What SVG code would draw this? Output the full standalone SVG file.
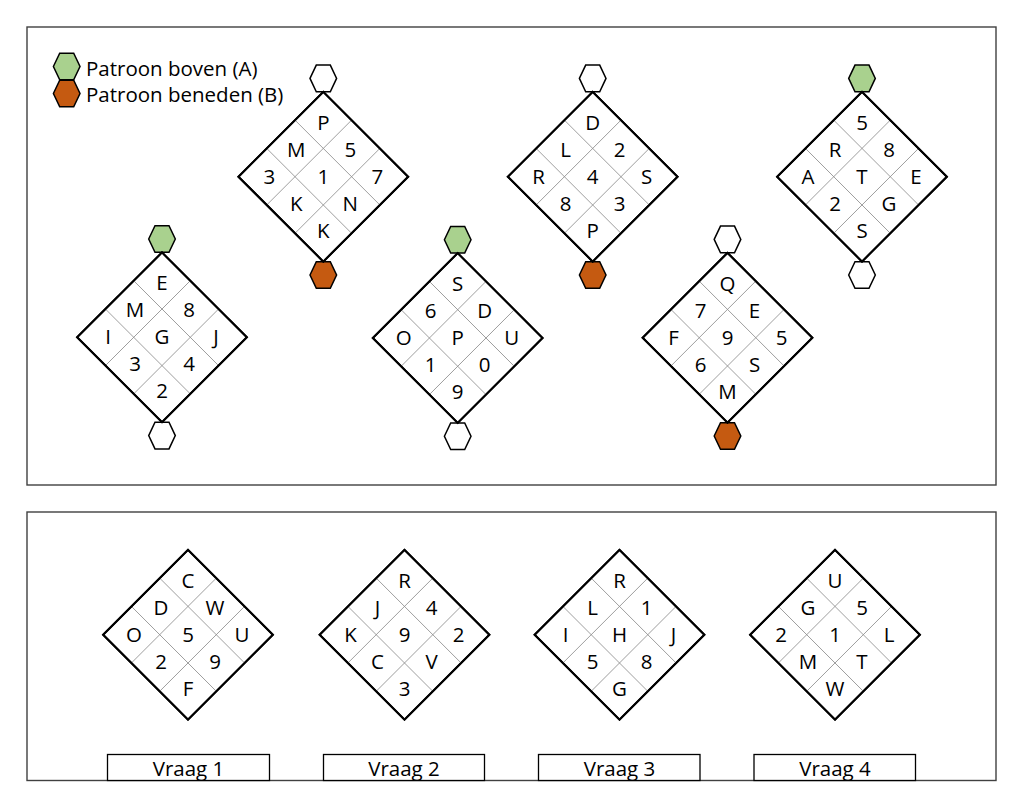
<svg xmlns="http://www.w3.org/2000/svg" xmlns:xlink="http://www.w3.org/1999/xlink" width="1024" height="809" viewBox="0 0 1024 809">
<style>
.panel{fill:#fff;stroke:#404040;stroke-width:1.4}
.frame{fill:#fff;stroke:#000;stroke-width:2}
.grid{stroke:#8c8c8c;stroke-width:0.8;fill:none}
.hex{stroke:#000;stroke-width:1.5}
.w{fill:#fff}.g{fill:#a9d18e}.o{fill:#c55a11}
.t{font-family:"Open Sans","Liberation Sans",sans-serif;font-size:20.5px;fill:#000;text-anchor:middle}
.v{font-family:"Open Sans","Liberation Sans",sans-serif;font-size:20.5px;fill:#000;text-anchor:middle}
.lg{font-family:"Open Sans","Liberation Sans",sans-serif;font-size:20.5px;fill:#000}
.box{fill:#fff;stroke:#000;stroke-width:1.3}
</style>
<defs>
<g id="frame">
<g transform="rotate(45)">
<rect class="frame" x="-60" y="-60" width="120" height="120"/>
<path class="grid" d="M-20,-60V60M20,-60V60M-60,-20H60M-60,20H60"/>
<rect x="-60" y="-60" width="120" height="120" fill="none" stroke="#000" stroke-width="2"/>
</g>
</g>
<polygon id="hx" points="-13.3,0 -7,-13.3 7,-13.3 13.3,0 7,13.3 -7,13.3"/>
</defs>
<rect class="panel" x="27" y="27" width="969" height="458"/>
<rect class="panel" x="27" y="512" width="969" height="268.5"/>

<g id="legend">
<use xlink:href="#hx" class="hex g" x="66.7" y="66.5"/>
<use xlink:href="#hx" class="hex o" x="66.7" y="93.5"/>
<text class="lg" x="86" y="75.5">Patroon boven (A)</text>
<text class="lg" x="86" y="101.5">Patroon beneden (B)</text>
</g>

<g id="d1" transform="translate(323.3,176.7)">
<use xlink:href="#hx" class="hex w" y="-98.3"/>
<use xlink:href="#hx" class="hex o" y="98.3"/>
<use xlink:href="#frame"/>
<text class="t" x="0" y="-47">P</text><text class="t" x="-27" y="-20">M</text><text class="t" x="27" y="-20">5</text>
<text class="t" x="-54" y="7">3</text><text class="t" x="0" y="7">1</text><text class="t" x="54" y="7">7</text>
<text class="t" x="-27" y="34">K</text><text class="t" x="27" y="34">N</text><text class="t" x="0" y="61">K</text>
</g>

<g id="d2" transform="translate(162,337.3)">
<use xlink:href="#hx" class="hex g" y="-98.3"/>
<use xlink:href="#hx" class="hex w" y="98.3"/>
<use xlink:href="#frame"/>
<text class="t" x="0" y="-47">E</text><text class="t" x="-27" y="-20">M</text><text class="t" x="27" y="-20">8</text>
<text class="t" x="-54" y="7">I</text><text class="t" x="0" y="7">G</text><text class="t" x="54" y="7">J</text>
<text class="t" x="-27" y="34">3</text><text class="t" x="27" y="34">4</text><text class="t" x="0" y="61">2</text>
</g>

<g id="d3" transform="translate(457.7,338)">
<use xlink:href="#hx" class="hex g" y="-98.3"/>
<use xlink:href="#hx" class="hex w" y="98.3"/>
<use xlink:href="#frame"/>
<text class="t" x="0" y="-47">S</text><text class="t" x="-27" y="-20">6</text><text class="t" x="27" y="-20">D</text>
<text class="t" x="-54" y="7">O</text><text class="t" x="0" y="7">P</text><text class="t" x="54" y="7">U</text>
<text class="t" x="-27" y="34">1</text><text class="t" x="27" y="34">0</text><text class="t" x="0" y="61">9</text>
</g>

<g id="d4" transform="translate(592.7,176.7)">
<use xlink:href="#hx" class="hex w" y="-98.3"/>
<use xlink:href="#hx" class="hex o" y="98.3"/>
<use xlink:href="#frame"/>
<text class="t" x="0" y="-47">D</text><text class="t" x="-27" y="-20">L</text><text class="t" x="27" y="-20">2</text>
<text class="t" x="-54" y="7">R</text><text class="t" x="0" y="7">4</text><text class="t" x="54" y="7">S</text>
<text class="t" x="-27" y="34">8</text><text class="t" x="27" y="34">3</text><text class="t" x="0" y="61">P</text>
</g>

<g id="d5" transform="translate(727.5,337.7)">
<use xlink:href="#hx" class="hex w" y="-98.3"/>
<use xlink:href="#hx" class="hex o" y="98.3"/>
<use xlink:href="#frame"/>
<text class="t" x="0" y="-47">Q</text><text class="t" x="-27" y="-20">7</text><text class="t" x="27" y="-20">E</text>
<text class="t" x="-54" y="7">F</text><text class="t" x="0" y="7">9</text><text class="t" x="54" y="7">5</text>
<text class="t" x="-27" y="34">6</text><text class="t" x="27" y="34">S</text><text class="t" x="0" y="61">M</text>
</g>

<g id="d6" transform="translate(862,176.7)">
<use xlink:href="#hx" class="hex g" y="-98.3"/>
<use xlink:href="#hx" class="hex w" y="98.3"/>
<use xlink:href="#frame"/>
<text class="t" x="0" y="-47">5</text><text class="t" x="-27" y="-20">R</text><text class="t" x="27" y="-20">8</text>
<text class="t" x="-54" y="7">A</text><text class="t" x="0" y="7">T</text><text class="t" x="54" y="7">E</text>
<text class="t" x="-27" y="34">2</text><text class="t" x="27" y="34">G</text><text class="t" x="0" y="61">S</text>
</g>

<g id="q1" transform="translate(188,634.7)">
<use xlink:href="#frame"/>
<text class="t" x="0" y="-47">C</text><text class="t" x="-27" y="-20">D</text><text class="t" x="27" y="-20">W</text>
<text class="t" x="-54" y="7">O</text><text class="t" x="0" y="7">5</text><text class="t" x="54" y="7">U</text>
<text class="t" x="-27" y="34">2</text><text class="t" x="27" y="34">9</text><text class="t" x="0" y="61">F</text>
</g>

<g id="q2" transform="translate(404.5,634.7)">
<use xlink:href="#frame"/>
<text class="t" x="0" y="-47">R</text><text class="t" x="-27" y="-20">J</text><text class="t" x="27" y="-20">4</text>
<text class="t" x="-54" y="7">K</text><text class="t" x="0" y="7">9</text><text class="t" x="54" y="7">2</text>
<text class="t" x="-27" y="34">C</text><text class="t" x="27" y="34">V</text><text class="t" x="0" y="61">3</text>
</g>

<g id="q3" transform="translate(619.5,634.7)">
<use xlink:href="#frame"/>
<text class="t" x="0" y="-47">R</text><text class="t" x="-27" y="-20">L</text><text class="t" x="27" y="-20">1</text>
<text class="t" x="-54" y="7">I</text><text class="t" x="0" y="7">H</text><text class="t" x="54" y="7">J</text>
<text class="t" x="-27" y="34">5</text><text class="t" x="27" y="34">8</text><text class="t" x="0" y="61">G</text>
</g>

<g id="q4" transform="translate(835,634.7)">
<use xlink:href="#frame"/>
<text class="t" x="0" y="-47">U</text><text class="t" x="-27" y="-20">G</text><text class="t" x="27" y="-20">5</text>
<text class="t" x="-54" y="7">2</text><text class="t" x="0" y="7">1</text><text class="t" x="54" y="7">L</text>
<text class="t" x="-27" y="34">M</text><text class="t" x="27" y="34">T</text><text class="t" x="0" y="61">W</text>
</g>

<g id="labels">
<rect class="box" x="107.5" y="754.5" width="162" height="26"/>
<text class="v" x="188.5" y="775.5">Vraag 1</text>
<rect class="box" x="323.5" y="754.5" width="161" height="26"/>
<text class="v" x="404" y="775.5">Vraag 2</text>
<rect class="box" x="538.5" y="754.5" width="161.5" height="26"/>
<text class="v" x="619.5" y="775.5">Vraag 3</text>
<rect class="box" x="754" y="754.5" width="161.5" height="26"/>
<text class="v" x="835" y="775.5">Vraag 4</text>
</g>
<g id="connectors"/>
</svg>
